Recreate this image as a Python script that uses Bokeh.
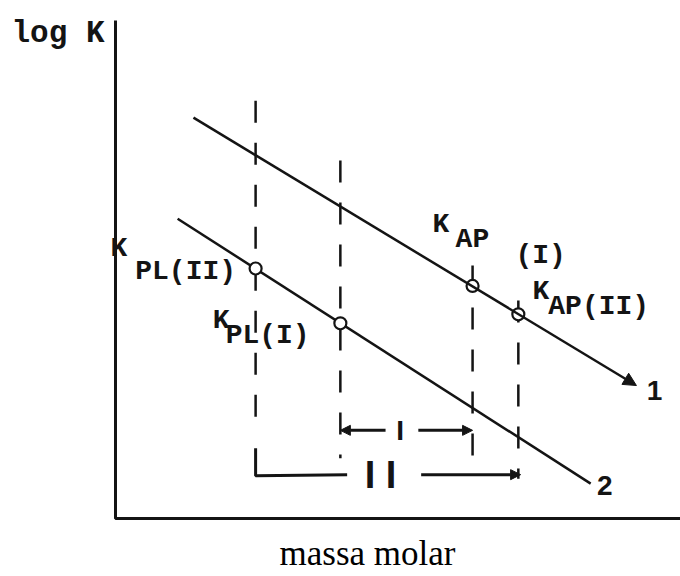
from bokeh.plotting import figure
from bokeh.models import Range1d, Arrow, NormalHead
from bokeh.core.properties import value
from bokeh.embed import file_html
from bokeh.resources import INLINE

INK = "#141414"
MONO = value("Liberation Mono")

# Axes of the diagram (molar mass, log K) in arbitrary units
axis_m = [0, 0, 10]
axis_logk = [10, 0, 0]

# Straight lines log K vs molar mass
line1_m = [1.38, 9.22]
line1_logk = [8.05, 2.67]
line2_m = [1.10, 8.41]
line2_logk = [6.02, 0.70]

# Marked points K_PL(II), K_PL(I), K_AP(I), K_AP(II)
point_m = [2.48, 3.98, 6.32, 7.13]
point_logk = [5.02, 3.92, 4.67, 4.10]

# Dashed guides dropped from the marked points
guide_top = [8.39, 7.19, 5.08, 4.38]
guide_bottom = [1.75, 1.21, 1.12, 0.80]

# Interval I (PL(I) .. AP(I)) and interval II (PL(II) .. AP(II))
int1_level = 1.77
int1_from, int1_to = 3.98, 6.32
int1_gap = [4.78, 5.36]
int2_level = 0.88
int2_from, int2_to = 2.48, 7.17
int2_gap = [4.10, 5.41]
int2_tick = [1.41, 0.86]

p = figure(width=680, height=576, output_backend="svg", toolbar_location=None,
           x_range=Range1d(-2.035, 10), y_range=Range1d(-1.165, 10.402),
           min_border=0)
p.axis.visible = False
p.grid.visible = False
p.outline_line_color = None
p.background_fill_color = "white"
p.border_fill_color = "white"

# axes
p.line(axis_m, axis_logk, line_color=INK, line_width=3)

# dashed guides
p.segment(x0=point_m, y0=guide_top, x1=point_m, y1=guide_bottom,
          line_color=INK, line_width=2.5, line_dash="22 20")

# line 2 (plain) and line 1 (with arrow head)
p.line(line2_m, line2_logk, line_color=INK, line_width=2.5)
p.add_layout(Arrow(end=NormalHead(size=13, fill_color=INK, line_color=INK),
                   x_start=line1_m[0], y_start=line1_logk[0],
                   x_end=line1_m[1], y_end=line1_logk[1],
                   line_color=INK, line_width=2.5))

# marked points
p.scatter(point_m, point_logk, size=12, marker="circle",
          fill_color="white", line_color=INK, line_width=2.2)

# interval I
for x0, x1 in [(int1_gap[0], int1_from), (int1_gap[1], int1_to)]:
    p.add_layout(Arrow(end=NormalHead(size=10, fill_color=INK, line_color=INK),
                       x_start=x0, y_start=int1_level, x_end=x1, y_end=int1_level,
                       line_color=INK, line_width=3))

# interval II (bracket on the left, arrow on the right)
p.line([int2_from, int2_from, int2_gap[0]], [int2_tick[0], int2_tick[1], int2_level],
       line_color=INK, line_width=3)
p.add_layout(Arrow(end=NormalHead(size=10, fill_color=INK, line_color=INK),
                   x_start=int2_gap[1], y_start=int2_level, x_end=int2_to, y_end=int2_level,
                   line_color=INK, line_width=3))

# typewriter labels
mono_text = ["log K", "K", "PL(II)", "K", "PL(I)", "K", "AP", "(I)", "K", "AP(II)"]
mono_x = [-1.84, -0.09, 0.35, 1.72, 1.95, 5.61, 6.02, 7.08, 7.38, 7.66]
mono_y = [9.74, 5.42, 4.96, 3.98, 3.68, 5.90, 5.60, 5.28, 4.56, 4.26]
p.text(x=mono_x[:1], y=mono_y[:1], text=mono_text[:1], text_font=MONO,
       text_font_size="31px", text_font_style="bold", text_color=INK,
       text_align="left", text_baseline="middle")
p.text(x=mono_x[1:], y=mono_y[1:], text=mono_text[1:], text_font=MONO,
       text_font_size="28px", text_font_style="bold", text_color=INK,
       text_align="left", text_baseline="middle")

# line numbers and interval names
sans_text = ["1", "2", "I"]
sans_x = [9.54, 8.66, 5.04]
sans_y = [2.57, 0.66, 1.77]
p.text(x=sans_x, y=sans_y, text=sans_text, text_font=value("Liberation Sans"),
       text_font_size="28px", text_font_style="bold", text_color=INK,
       text_align="center", text_baseline="middle")
p.text(x=[4.69], y=[0.88], text=["I I"], text_font=value("Liberation Sans"),
       text_font_size="38px", text_font_style="bold", text_color=INK,
       text_align="center", text_baseline="middle")

# x axis title
p.text(x=[4.46], y=[-0.70], text=["massa molar"], text_font=value("Liberation Serif"),
       text_font_size="35px", text_color="black",
       text_align="center", text_baseline="middle")

open("out.html", "w").write(file_html(p, INLINE))
